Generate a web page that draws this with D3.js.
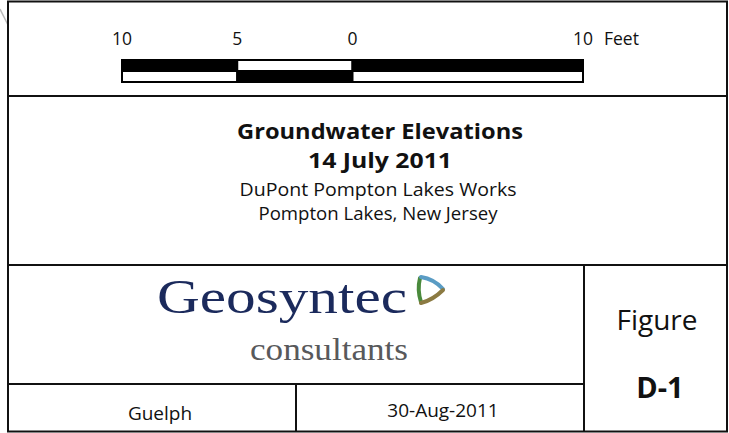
<!DOCTYPE html>
<html>
<head>
<meta charset="utf-8">
<script src="https://d3js.org/d3.v7.min.js"></script>
<style>
  body { margin: 0; background: #fff; }
  svg { display: block; }
  text { font-family: "Open Sans", "Noto Sans", sans-serif; fill: #111; }
</style>
</head>
<body>
<svg id="block"></svg>
<script>
// 比例尺刻度（英尺）
const scaleBreaks = [-10, -5, 0, 10];
const scaleUnit = "Feet";

// 标题文字
const titleLines = ["Groundwater Elevations", "14 July 2011"];
const subtitleLines = ["DuPont Pompton Lakes Works", "Pompton Lakes, New Jersey"];

// 公司标识与图号
const logoName = "Geosyntec";
const logoSub = "consultants";
const figureLabel = "Figure";
const figureNumber = "D-1";
const officeName = "Guelph";
const issueDate = "30-Aug-2011";

const width = 729;
const height = 433;

const svg = d3.select("#block")
  .attr("width", width)
  .attr("height", height);

// 左上角的灰色斜线（截图残留）
svg.append("line")
  .attr("x1", 0).attr("y1", 9)
  .attr("x2", 8).attr("y2", 25)
  .attr("stroke", "#bbb")
  .attr("stroke-width", 1.5);

// 外框和分隔线
const frame = svg.append("g")
  .attr("stroke", "#111")
  .attr("stroke-width", 2)
  .attr("fill", "none");

frame.append("rect")
  .attr("x", 8).attr("y", 1.5)
  .attr("width", 719).attr("height", 430);

const rules = [
  [8, 96, 727, 96],
  [8, 265, 727, 265],
  [8, 384, 584, 384],
  [584, 265, 584, 431],
  [296, 384, 296, 431]
];
frame.selectAll("line.rule")
  .data(rules)
  .enter()
  .append("line")
  .attr("class", "rule")
  .attr("x1", d => d[0]).attr("y1", d => d[1])
  .attr("x2", d => d[2]).attr("y2", d => d[3]);

// 比例尺
const x = d3.scaleLinear()
  .domain([scaleBreaks[0], scaleBreaks[scaleBreaks.length - 1]])
  .range([122, 583]);

const segs = d3.pairs(scaleBreaks);
const barTop = 60;
const rowH = 11;

const bar = svg.append("g");
[0, 1].forEach(row => {
  bar.selectAll("rect.r" + row)
    .data(segs)
    .enter()
    .append("rect")
    .attr("class", "r" + row)
    .attr("x", d => x(d[0]))
    .attr("y", barTop + row * rowH)
    .attr("width", d => x(d[1]) - x(d[0]))
    .attr("height", rowH)
    .attr("fill", (d, i) => ((i + row) % 2 === 0 ? "#000" : "#fff"))
    .attr("stroke", "#000")
    .attr("stroke-width", 2);
});

svg.selectAll("text.tick")
  .data(scaleBreaks)
  .enter()
  .append("text")
  .attr("class", "tick")
  .attr("x", d => x(d))
  .attr("y", 45)
  .attr("text-anchor", "middle")
  .attr("font-size", 17.5)
  .text(d => Math.abs(d));

svg.append("text")
  .attr("x", x(scaleBreaks[scaleBreaks.length - 1]) + 21)
  .attr("y", 45)
  .attr("font-size", 17.5)
  .text(scaleUnit);

// 标题（宽度按参考图拉伸）
const cx = 380;
const titleWidths = [286, 144];
svg.selectAll("text.title")
  .data(titleLines)
  .enter()
  .append("text")
  .attr("class", "title")
  .attr("x", cx)
  .attr("y", (d, i) => 139 + i * 29)
  .attr("text-anchor", "middle")
  .attr("font-size", 21.5)
  .attr("font-weight", "bold")
  .attr("textLength", (d, i) => titleWidths[i])
  .attr("lengthAdjust", "spacingAndGlyphs")
  .text(d => d);

const subWidths = [277, 239];
svg.selectAll("text.sub")
  .data(subtitleLines)
  .enter()
  .append("text")
  .attr("class", "sub")
  .attr("x", cx - 2)
  .attr("y", (d, i) => 196 + i * 24)
  .attr("text-anchor", "middle")
  .attr("font-size", 17.5)
  .attr("textLength", (d, i) => subWidths[i])
  .attr("lengthAdjust", "spacingAndGlyphs")
  .text(d => d);

// 公司标识
svg.append("text")
  .attr("x", 157)
  .attr("y", 313)
  .style("font-family", "'Liberation Serif', 'Times New Roman', serif")
  .attr("font-size", 48)
  .attr("textLength", 250)
  .attr("lengthAdjust", "spacingAndGlyphs")
  .style("fill", "#1b2a5c")
  .text(logoName);

svg.append("text")
  .attr("x", 250)
  .attr("y", 360)
  .style("font-family", "'Liberation Serif', 'Times New Roman', serif")
  .attr("font-size", 31)
  .attr("textLength", 158)
  .attr("lengthAdjust", "spacingAndGlyphs")
  .style("fill", "#58595b")
  .text(logoSub);

// 三角形标志
const mark = svg.append("g")
  .attr("fill", "none")
  .attr("stroke-width", 4)
  .attr("stroke-linecap", "round");
mark.append("path").attr("d", "M420,278 Q417,290 421,302").attr("stroke", "#4a8a3c");
mark.append("path").attr("d", "M421,277 Q434,279 443,289").attr("stroke", "#5a9cc4");
mark.append("path").attr("d", "M443,290 Q433,300 421,303").attr("stroke", "#8b7a42");

// 图号
svg.append("text")
  .attr("x", 657)
  .attr("y", 330)
  .attr("text-anchor", "middle")
  .attr("font-size", 28)
  .text(figureLabel);

svg.append("text")
  .attr("x", 660)
  .attr("y", 398)
  .attr("text-anchor", "middle")
  .attr("font-size", 29)
  .attr("font-weight", "bold")
  .text(figureNumber);

svg.append("text")
  .attr("x", 160)
  .attr("y", 420)
  .attr("text-anchor", "middle")
  .attr("font-size", 19)
  .text(officeName);

svg.append("text")
  .attr("x", 443)
  .attr("y", 417)
  .attr("text-anchor", "middle")
  .attr("font-size", 19)
  .text(issueDate);
</script>
</body>
</html>
